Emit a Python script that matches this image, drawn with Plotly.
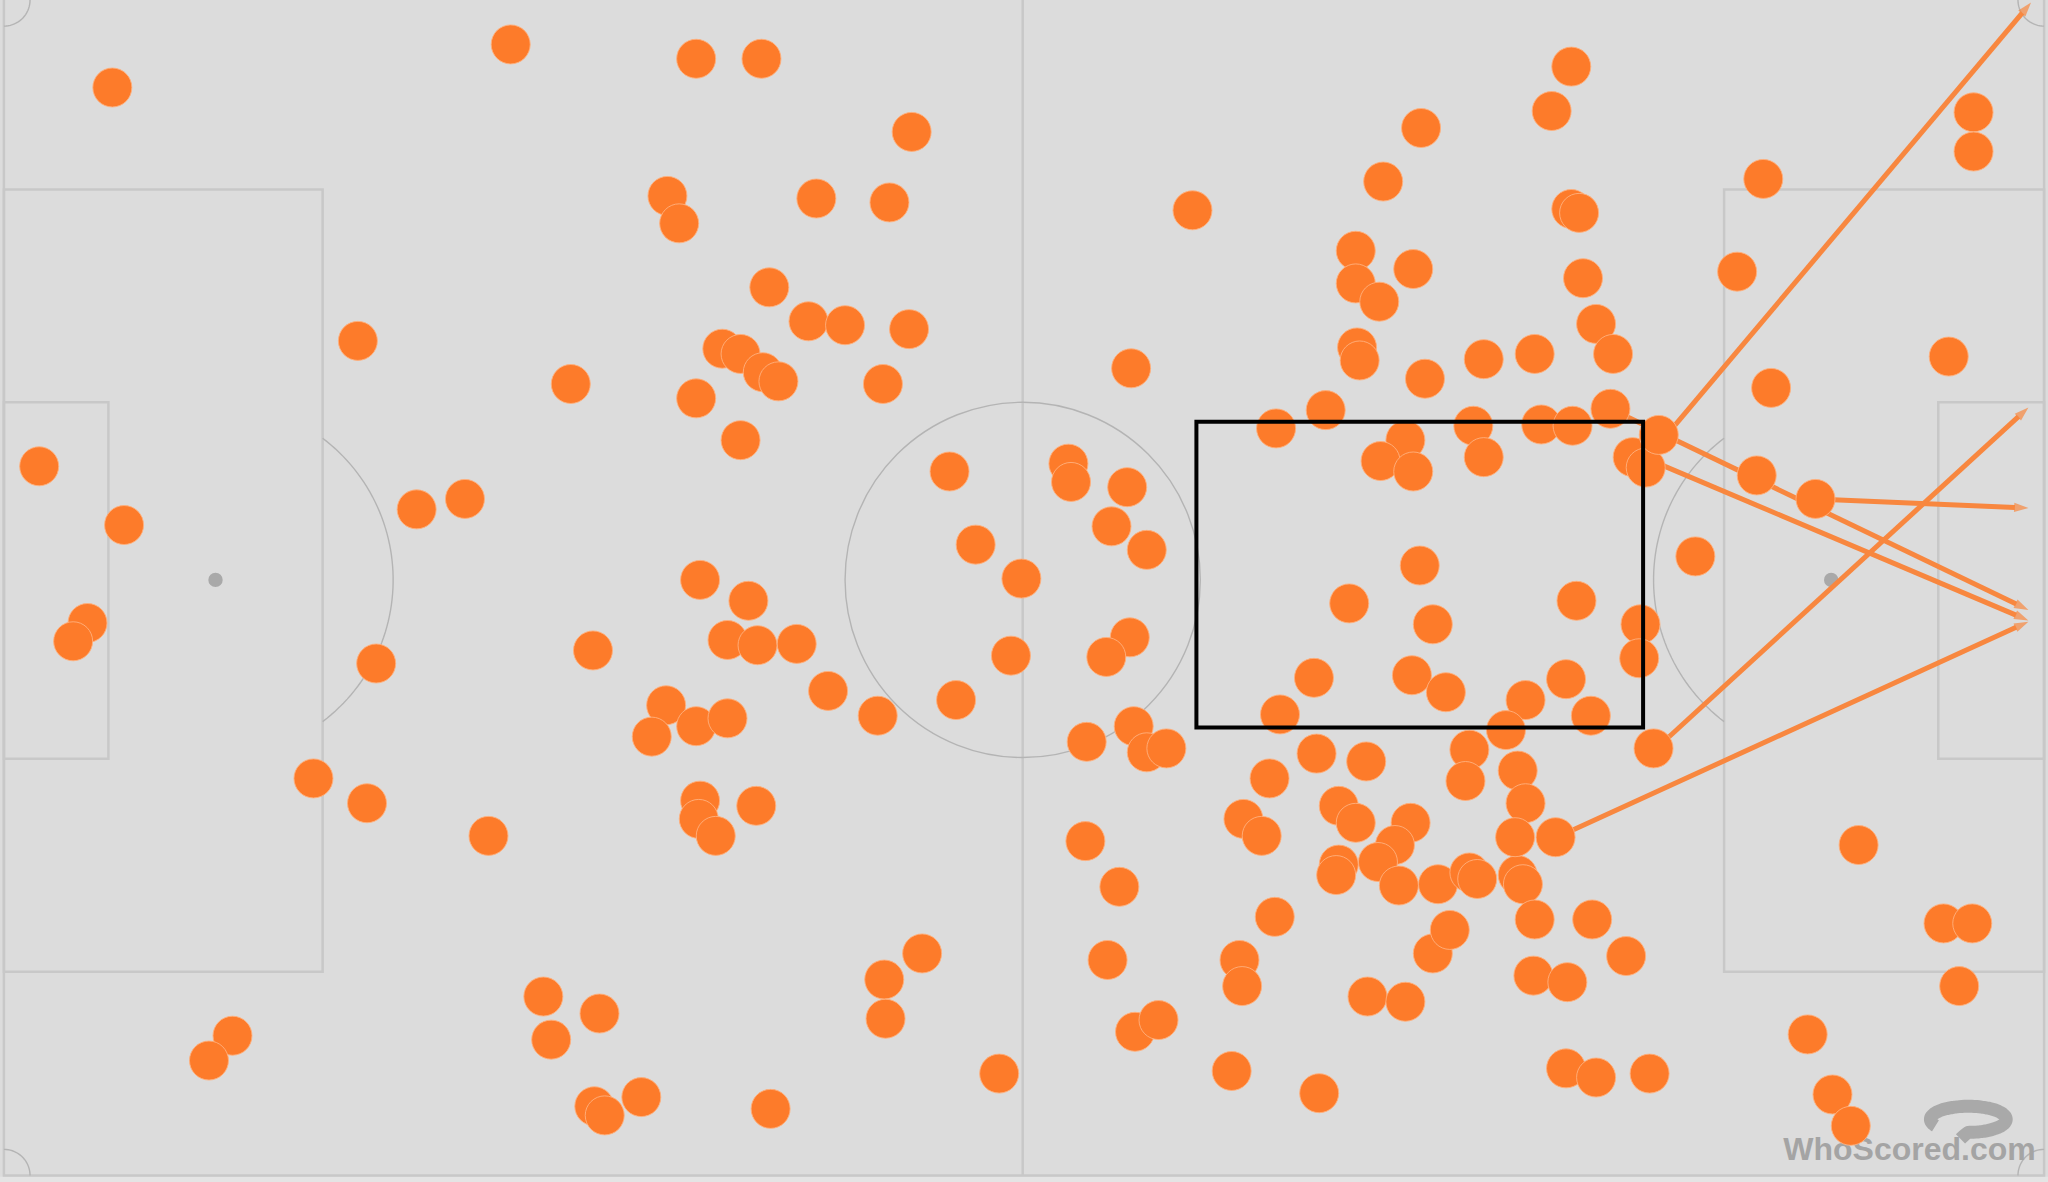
import numpy as np
import plotly.graph_objects as go

# ---------------- data (pitch units = reference picture units, 1568 x 905) ----------------
touch_x = [
    86, 274, 30, 95, 67, 56, 288, 240, 281, 178, 160,
    391, 437, 319, 356, 374, 454, 416, 422, 459, 455, 463, 491,
    533, 583, 698, 511, 520, 625, 681, 589, 619, 647, 696, 553, 567, 584, 596, 676, 533, 567,
    536, 573, 557, 580, 610, 634, 672, 510, 499, 533, 557, 536, 535, 548, 579, 677, 678, 590,
    727, 747, 782, 774, 732, 706, 765,
    913, 866, 818, 820, 863, 851, 878, 865, 847, 832, 868, 878, 893, 831, 857, 848, 869, 887,
    943, 949, 951, 952,
    1010, 1088, 1059, 1038, 1038, 1082, 1056, 1039, 1041, 1091, 1015, 977, 1076, 1057, 1082,
    1087, 1033, 1097, 1006, 1081, 980, 1008, 1046, 972, 1025, 1038, 966, 1080, 1068, 1025,
    1023, 1055, 1071, 976, 1047, 1076, 1097,
    1110, 1101, 1125, 1131, 1162, 1166, 1175, 1219, 1245, 1174, 1200, 1199, 1222, 1263, 1136,
    1175, 1128, 1136, 1180, 1204, 1233, 1203, 1188, 1203, 1209, 1212, 1222, 1235, 1250, 1260,
    1270, 1207, 1256, 1255, 1107, 1168, 1199, 1218, 1153, 1125, 1122, 1162, 1168, 1160, 1191,
    1266,
    1350, 1330, 1356, 1492, 1511, 1511, 1345, 1390, 1298, 1423, 1488, 1510, 1500, 1384, 1403,
    1417,
]
touch_y = [
    67, 261, 357, 402, 477, 491, 508, 596, 615, 793, 812,
    34, 294, 390, 382, 640, 498, 763, 796, 776, 847, 854, 840,
    45, 45, 101, 150, 171, 152, 155, 220, 246, 249, 252, 267, 271, 285, 292, 294, 305, 337,
    444, 460, 490, 494, 493, 529, 548, 540, 564, 556, 550, 613, 627, 640, 617, 750, 780, 849,
    361, 417, 443, 502, 536, 730, 822,
    161, 282, 355, 369, 373, 403, 421, 488, 503, 568, 556, 576, 573, 644, 679, 735, 790, 781,
    820, 735, 755, 627,
    837, 98, 139, 192, 217, 206, 231, 266, 276, 290, 314, 328, 337, 353, 361,
    433, 462, 478, 519, 517, 547, 577, 583, 596, 617, 630, 640, 630, 647, 662,
    670, 660, 678, 702, 763, 767, 730,
    712, 677, 668, 673, 670, 677, 704, 704, 732, 747, 752, 818, 825, 822, 275,
    271, 326, 350, 325, 326, 313, 51, 85, 160, 163, 213, 248, 271, 350, 358,
    333, 460, 478, 504, 530, 536, 520, 548, 559, 574, 598, 590, 615, 641, 641,
    573,
    137, 208, 297, 273, 86, 116, 364, 382, 426, 647, 707, 707, 755, 792, 838,
    862,
]

# passes into the box: start and end points
pass_x0 = [1266, 1266, 1390, 1233, 1258, 1190]
pass_y0 = [345, 575, 382, 313, 350, 642]
pass_x1 = [1555, 1553, 1553, 1553, 1553, 1553]
pass_y1 = [2, 312, 389, 467, 475, 476]

# highlighted zone (x0, x1, y0, y1)
zone = [916, 1258, 323, 557]

# ---------------- styling / pitch geometry ----------------
BG = "#dcdcdc"
LINE = "#c8c8c8"
ARC = "#b4b4b4"
DOT = "#fd7b2a"
PASS = "#f8873f"

L, R, T, B = 3, 1565, -2, 900
MID = 783
CY = 444

fig = go.Figure()

shapes = []


def rect(x0, x1, y0, y1, color=LINE, width=2.5, layer="below"):
    shapes.append(dict(type="rect", xref="x", yref="y", x0=x0, x1=x1, y0=y0, y1=y1,
                       line=dict(color=color, width=width), layer=layer))


def poly(xs, ys, color=ARC, width=1.4):
    path = "M " + " L ".join(f"{x:.2f},{y:.2f}" for x, y in zip(xs, ys))
    shapes.append(dict(type="path", xref="x", yref="y", path=path,
                       line=dict(color=color, width=width), layer="below"))


# strip below the bottom line
shapes.append(dict(type="rect", xref="x", yref="y", x0=0, x1=1568, y0=901, y1=906,
                   line=dict(width=0), fillcolor="#e4e4e4", layer="below"))
# outline
rect(L, R, T, B)
# halfway line
shapes.append(dict(type="line", xref="x", yref="y", x0=MID, x1=MID, y0=T, y1=B,
                   line=dict(color=LINE, width=2.5), layer="below"))
# penalty areas and six-yard boxes
rect(L, 247, 145, 744)
rect(L, 83, 308, 581)
rect(1320, R, 145, 744)
rect(1484, R, 308, 581)
# centre circle
shapes.append(dict(type="circle", xref="x", yref="y", x0=MID - 136, x1=MID + 136,
                   y0=CY - 136, y1=CY + 136, line=dict(color=ARC, width=1.4), layer="below"))
# penalty spots
for sx in (165, 1402):
    shapes.append(dict(type="circle", xref="x", yref="y", x0=sx - 5.5, x1=sx + 5.5,
                       y0=CY - 5.5, y1=CY + 5.5, line=dict(width=0), fillcolor="#a9a9a9",
                       layer="below"))
# penalty arcs
a = np.arccos((247 - 165) / 136)
t = np.linspace(-a, a, 60)
poly(165 + 136 * np.cos(t), CY + 136 * np.sin(t))
poly(1402 - 136 * np.cos(t), CY + 136 * np.sin(t))
# corner arcs
t = np.linspace(0, np.pi / 2, 20)
poly(L + 20 * np.cos(t), 0 + 20 * np.sin(t))
poly(L + 20 * np.cos(t), B - 20 * np.sin(t))
poly(R - 20 * np.cos(t), 0 + 20 * np.sin(t))
poly(R - 20 * np.cos(t), B - 20 * np.sin(t))

# highlighted zone (on top of everything)
shapes.append(dict(type="rect", xref="x", yref="y", x0=zone[0], x1=zone[1], y0=zone[2],
                   y1=zone[3], line=dict(color="black", width=4), layer="above"))

# ---------------- watermark (under the dots) ----------------
t = np.linspace(np.radians(150), np.radians(450), 80)
lx = list(1507 + 29 * np.cos(t)) + [1501]
ly = list(857 + 10 * np.sin(t)) + [872]
fig.add_trace(go.Scatter(x=lx, y=ly, mode="lines",
                         line=dict(color="#a9a9a9", width=13, shape="spline"),
                         hoverinfo="skip"))
fig.add_trace(go.Scatter(x=[1462], y=[882], mode="text", text=["<b>WhoScored.com</b>"],
                         textposition="middle center",
                         textfont=dict(family="Liberation Sans", size=32, color="#a4a4a4"),
                         hoverinfo="skip"))

# ---------------- passes ----------------
for x0, y0, x1, y1 in zip(pass_x0, pass_y0, pass_x1, pass_y1):
    fig.add_trace(go.Scatter(
        x=[x0, x1], y=[y0, y1], mode="lines+markers",
        line=dict(color=PASS, width=5),
        marker=dict(symbol=["circle", "arrow"], size=[0, 15], color=PASS,
                    angleref="previous", line=dict(width=0)),
        hoverinfo="skip"))

# ---------------- touches ----------------
fig.add_trace(go.Scatter(
    x=touch_x, y=touch_y, mode="markers",
    marker=dict(size=39, color=DOT, line=dict(color="rgba(255,176,125,0.9)", width=1)),
    hoverinfo="skip"))

fig.update_layout(
    width=2048, height=1182,
    margin=dict(l=0, r=0, t=0, b=0),
    paper_bgcolor=BG, plot_bgcolor=BG,
    showlegend=False,
    shapes=shapes,
    xaxis=dict(range=[0, 1568], visible=False, fixedrange=True),
    yaxis=dict(range=[905, 0], visible=False, fixedrange=True),
)

fig.write_html("out.html")
